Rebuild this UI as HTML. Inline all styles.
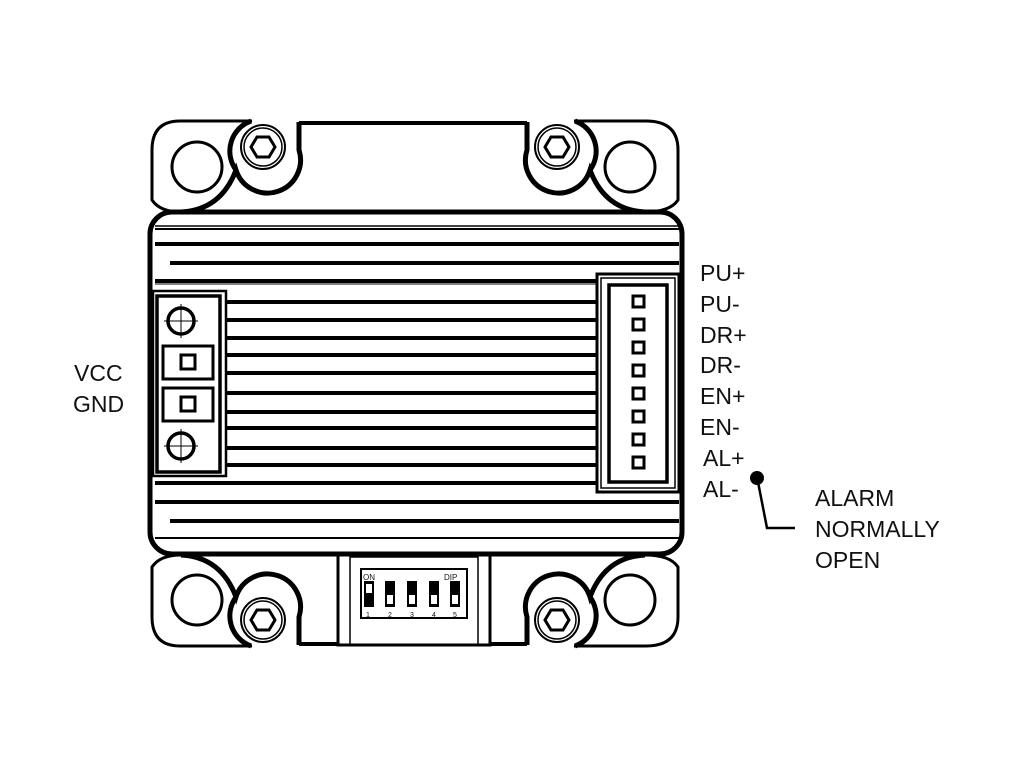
<!DOCTYPE html>
<html><head><meta charset="utf-8"><style>
html,body{margin:0;padding:0;background:#fff;width:1024px;height:768px;overflow:hidden}
svg{display:block}
text{font-family:"Liberation Sans",sans-serif;font-size:23px;fill:#111}
</style></head><body>
<svg width="1024" height="768" viewBox="0 0 1024 768" xmlns="http://www.w3.org/2000/svg">
<defs>
<g id="half" fill="none" stroke="#000">
  <path d="M181,212 Q160,212 152,200 L152,150 Q152,121 180,121 L252,121 M574,121 L646,121 Q678,121 678,150 L678,200 Q670,212 645,212" stroke-width="3"/>
  <line x1="299" y1="123" x2="527" y2="123" stroke-width="4"/>
  <circle cx="197" cy="167" r="25" stroke-width="3"/>
  <circle cx="630" cy="167" r="25" stroke-width="3"/>
  <path d="M299,122 V150 A32,32 0 0 1 236,170 Q221,210 181,212" stroke-width="5"/>
  <path d="M251,121 A32,32 0 0 0 236,170" stroke-width="5"/>
  <path d="M527,122 V150 A32,32 0 0 0 590,170 Q605,210 645,212" stroke-width="5"/>
  <path d="M575,121 A32,32 0 0 1 590,170" stroke-width="5"/>
  <circle cx="263" cy="147" r="22" stroke-width="2"/>
  <circle cx="263" cy="147" r="19" stroke-width="1.5"/>
  <polygon points="275,147 269,157 257,157 251,147 257,137 269,137" stroke-width="3"/>
  <circle cx="557" cy="147" r="22" stroke-width="2"/>
  <circle cx="557" cy="147" r="19" stroke-width="1.5"/>
  <polygon points="569,147 563,157 551,157 545,147 551,137 563,137" stroke-width="3"/>
</g>
</defs>
<use href="#half"/>
<use href="#half" transform="matrix(1,0,0,-1,0,767)"/>
<rect x="338" y="545" width="152" height="100" fill="#fff" stroke="#000" stroke-width="3"/>
<line x1="350" y1="545" x2="350" y2="645" stroke="#000" stroke-width="1.5"/>
<line x1="478" y1="545" x2="478" y2="645" stroke="#000" stroke-width="1.5"/>
<line x1="350" y1="557" x2="478" y2="557" stroke="#000" stroke-width="1.5"/>
<rect x="361" y="569" width="106" height="49" fill="#fff" stroke="#000" stroke-width="2"/>
<g fill="#000">
<rect x="364" y="581" width="10" height="26"/><rect x="385" y="581" width="10" height="26"/><rect x="407" y="581" width="10" height="26"/><rect x="429" y="581" width="10" height="26"/><rect x="450" y="581" width="10" height="26"/>
</g>
<g fill="#fff">
<rect x="366" y="584" width="6" height="9"/><rect x="387" y="595" width="6" height="9"/><rect x="409" y="595" width="6" height="9"/><rect x="431" y="595" width="6" height="9"/><rect x="452" y="595" width="6" height="9"/>
</g>
<text x="363" y="580" style="font-size:8px">ON</text><text x="444" y="580" style="font-size:8px">DIP</text>
<text x="366" y="617" style="font-size:7px">1</text><text x="388" y="617" style="font-size:7px">2</text><text x="410" y="617" style="font-size:7px">3</text><text x="432" y="617" style="font-size:7px">4</text><text x="453" y="617" style="font-size:7px">5</text>
<rect x="150" y="212" width="532" height="342" rx="22" fill="#fff" stroke="#000" stroke-width="5"/>
<g stroke="#000">
<line x1="155" y1="226" x2="679" y2="226" stroke-width="1.5"/>
<line x1="155" y1="229" x2="679" y2="229" stroke-width="2"/>
<line x1="155" y1="244" x2="679" y2="244" stroke-width="4"/>
<line x1="170" y1="263" x2="679" y2="263" stroke-width="4"/>
<line x1="155" y1="281" x2="679" y2="281" stroke-width="4"/>
<line x1="155" y1="284" x2="679" y2="284" stroke-width="1"/>
<line x1="226" y1="302" x2="596" y2="302" stroke-width="4"/>
<line x1="226" y1="320" x2="596" y2="320" stroke-width="4"/>
<line x1="226" y1="338" x2="596" y2="338" stroke-width="4"/>
<line x1="226" y1="355" x2="596" y2="355" stroke-width="4"/>
<line x1="226" y1="373" x2="596" y2="373" stroke-width="4"/>
<line x1="226" y1="393" x2="596" y2="393" stroke-width="4"/>
<line x1="226" y1="412" x2="596" y2="412" stroke-width="4"/>
<line x1="226" y1="428" x2="596" y2="428" stroke-width="4"/>
<line x1="226" y1="448" x2="596" y2="448" stroke-width="4"/>
<line x1="226" y1="465" x2="596" y2="465" stroke-width="4"/>
<line x1="155" y1="483" x2="679" y2="483" stroke-width="4"/>
<line x1="155" y1="502" x2="679" y2="502" stroke-width="4"/>
<line x1="170" y1="521" x2="679" y2="521" stroke-width="4"/>
<line x1="155" y1="538" x2="679" y2="538" stroke-width="2"/>
</g>
<rect x="153" y="291" width="73" height="185" fill="#fff" stroke="#000" stroke-width="2.5"/>
<rect x="157" y="296" width="63" height="176" fill="none" stroke="#000" stroke-width="3.5"/>
<g stroke="#000" fill="none">
<circle cx="181" cy="321" r="13" stroke-width="3.5"/>
<line x1="164" y1="321" x2="198" y2="321" stroke-width="1"/><line x1="181" y1="304" x2="181" y2="338" stroke-width="1"/>
<circle cx="181" cy="446" r="13" stroke-width="3.5"/>
<line x1="164" y1="446" x2="198" y2="446" stroke-width="1"/><line x1="181" y1="429" x2="181" y2="463" stroke-width="1"/>
<rect x="163" y="346" width="50" height="33" stroke-width="3"/>
<rect x="181" y="355" width="14" height="14" stroke-width="3"/>
<rect x="163" y="388" width="50" height="33" stroke-width="3"/>
<rect x="181" y="397" width="14" height="14" stroke-width="3"/>
</g>
<rect x="597" y="274" width="82" height="218" fill="#fff" stroke="#000" stroke-width="3"/>
<rect x="601" y="278" width="74" height="210" fill="none" stroke="#000" stroke-width="1.5"/>
<rect x="609" y="285" width="58" height="197" fill="none" stroke="#000" stroke-width="3.5"/>
<g fill="none" stroke="#000" stroke-width="3">
<rect x="633" y="296" width="11" height="11"/><rect x="633" y="319" width="11" height="11"/><rect x="633" y="342" width="11" height="11"/><rect x="633" y="365" width="11" height="11"/><rect x="633" y="388" width="11" height="11"/><rect x="633" y="411" width="11" height="11"/><rect x="633" y="434" width="11" height="11"/><rect x="633" y="457" width="11" height="11"/>
</g>
<text x="700" y="281">PU+</text>
<text x="700" y="312">PU-</text>
<text x="700" y="343">DR+</text>
<text x="700" y="373">DR-</text>
<text x="700" y="404">EN+</text>
<text x="700" y="435">EN-</text>
<text x="703" y="466">AL+</text>
<text x="703" y="497">AL-</text>
<text x="74" y="381">VCC</text>
<text x="73" y="412">GND</text>
<text x="815" y="506">ALARM</text>
<text x="815" y="537">NORMALLY</text>
<text x="815" y="568">OPEN</text>
<circle cx="757" cy="478" r="7" fill="#000"/>
<polyline points="758,482 767,528 795,528" fill="none" stroke="#000" stroke-width="2.5"/>
</svg>
</body></html>
